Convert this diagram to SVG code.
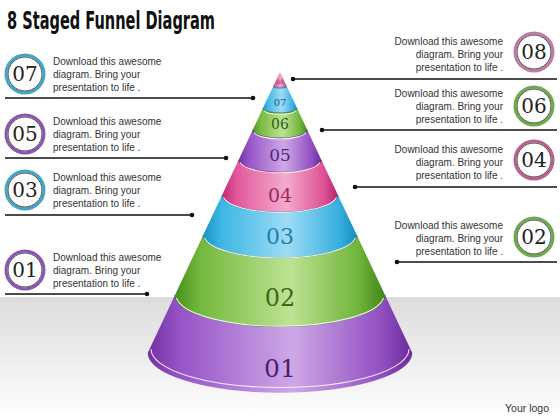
<svg xmlns="http://www.w3.org/2000/svg" width="560" height="420" viewBox="0 0 560 420">
<defs>
<linearGradient id="bg" x1="0" y1="0" x2="0" y2="1">
<stop offset="0" stop-color="#dcdcdc"/><stop offset="1" stop-color="#ffffff"/>
</linearGradient>
<linearGradient id="gPurple" x1="0" y1="0" x2="1" y2="0">
<stop offset="0" stop-color="#7331a3"/><stop offset="0.12" stop-color="#9653c6"/><stop offset="0.55" stop-color="#cda8e6"/><stop offset="0.88" stop-color="#9250c2"/><stop offset="1" stop-color="#6c2c9c"/>
</linearGradient>
<linearGradient id="gPink" x1="0" y1="0" x2="1" y2="0">
<stop offset="0" stop-color="#c2276f"/><stop offset="0.12" stop-color="#e0579a"/><stop offset="0.55" stop-color="#f4abcd"/><stop offset="0.88" stop-color="#dc5294"/><stop offset="1" stop-color="#b8226a"/>
</linearGradient>
<linearGradient id="gBlue" x1="0" y1="0" x2="1" y2="0">
<stop offset="0" stop-color="#1a94c6"/><stop offset="0.12" stop-color="#3db6e5"/><stop offset="0.55" stop-color="#9edcf4"/><stop offset="0.88" stop-color="#38b0e0"/><stop offset="1" stop-color="#168cbd"/>
</linearGradient>
<linearGradient id="gGreen" x1="0" y1="0" x2="1" y2="0">
<stop offset="0" stop-color="#478f1e"/><stop offset="0.12" stop-color="#73b83d"/><stop offset="0.55" stop-color="#bde393"/><stop offset="0.88" stop-color="#6fb33a"/><stop offset="1" stop-color="#40861a"/>
</linearGradient>
<style>
.t{font-family:"Liberation Sans",Arial,sans-serif;font-size:10px;fill:#333333}
.r{text-anchor:end}
.num{font-family:"DejaVu Serif","Liberation Serif",serif;font-size:20px;fill:#222222;text-anchor:middle}
.lbl{font-family:"DejaVu Serif","Liberation Serif",serif;text-anchor:middle}
.ring{fill:#ffffff;stroke-width:3}
.inner{fill:none;stroke:#444444;stroke-width:1}
.conn{stroke:#111111;stroke-width:1.6;fill:none}
.dot{fill:#111111}
.hl{fill:none;stroke:#ffffff;stroke-width:1.1;opacity:0.85}
.rim{fill:none;stroke-width:1.2;opacity:0.7}
</style>
</defs>
<rect x="0" y="0" width="560" height="420" fill="#ffffff"/>
<rect x="0" y="297" width="560" height="123" fill="url(#bg)"/>
<text x="7" y="29" font-family="'DejaVu Sans Condensed','DejaVu Sans',sans-serif" font-weight="bold" font-size="24" textLength="208" lengthAdjust="spacingAndGlyphs" fill="#111111">8 Staged Funnel Diagram</text>

<g id="funnel">
<g id="band08"><path d="M280,72 L286.6,86 A6.6,2 0 0 1 273.4,86 Z" fill="url(#gPink)"/><text class="lbl" x="280" y="84" font-size="6" fill="#8a1f50">08</text></g>
<g id="band07"><path d="M273.4,86 A6.6,2 0 0 0 286.6,86 L297,108 A17,5.1 0 0 1 263,108 Z" fill="url(#gBlue)"/><text class="lbl" x="280" y="106" font-size="10" fill="#1d5f8a">07</text></g>
<g id="band06"><path d="M263,108 A17,5.1 0 0 0 297,108 L307.3,130 A27.3,8.2 0 0 1 252.7,130 Z" fill="url(#gGreen)"/><text class="lbl" x="280" y="129" font-size="14" fill="#2f5e1a">06</text></g>
<g id="band05"><path d="M252.7,130 A27.3,8.2 0 0 0 307.3,130 L321.4,160 A41.4,12.4 0 0 1 238.6,160 Z" fill="url(#gPurple)"/><text class="lbl" x="280" y="161" font-size="17" fill="#4f2580">05</text></g>
<g id="band04"><path d="M238.6,160 A41.4,12.4 0 0 0 321.4,160 L337.9,195 A57.9,17.4 0 0 1 222.1,195 Z" fill="url(#gPink)"/><text class="lbl" x="280" y="202" font-size="19" fill="#a02860">04</text></g>
<g id="band03"><path d="M222.1,195 A57.9,17.4 0 0 0 337.9,195 L356.8,235 A76.8,23 0 0 1 203.2,235 Z" fill="url(#gBlue)"/><text class="lbl" x="280" y="244" font-size="22" fill="#1f7fb0">03</text></g>
<g id="band02"><path d="M203.2,235 A76.8,23 0 0 0 356.8,235 L385,295 A105,31.5 0 0 1 175,295 Z" fill="url(#gGreen)"/><text class="lbl" x="280" y="306" font-size="24" fill="#3a6a1c">02</text></g>
<g id="band01"><path d="M175,295 A105,31.5 0 0 0 385,295 L412.3,353 A132.3,39.7 0 0 1 147.7,353 Z" fill="url(#gPurple)"/><text class="lbl" x="280" y="377" font-size="25" fill="#4a2070">01</text></g>
<g id="edges">
<path class="rim" stroke="#1d6f9a" d="M273.4,86 A6.6,2 0 0 0 286.6,86"/>
<path class="rim" stroke="#2c6a12" d="M263,108 A17,5.1 0 0 0 297,108"/>
<path class="rim" stroke="#4c1f78" d="M252.7,130 A27.3,8.2 0 0 0 307.3,130"/>
<path class="rim" stroke="#8a1a50" d="M238.6,160 A41.4,12.4 0 0 0 321.4,160"/>
<path class="rim" stroke="#0f6e9a" d="M222.1,195 A57.9,17.4 0 0 0 337.9,195"/>
<path class="rim" stroke="#2c6a12" d="M203.2,235 A76.8,23 0 0 0 356.8,235"/>
<path class="rim" stroke="#3d6b1f" d="M175,295 A105,31.5 0 0 0 385,295"/>
<path class="hl" d="M264,110.5 A16.5,5 0 0 0 296,110.5"/>
<path class="hl" d="M254,132.5 A26.5,8 0 0 0 306,132.5"/>
<path class="hl" d="M240,162.5 A40.5,12.2 0 0 0 320,162.5"/>
<path class="hl" d="M223.5,197.5 A57,17.2 0 0 0 336.5,197.5"/>
<path class="hl" d="M204.5,237.8 A76,22.8 0 0 0 355.5,237.8"/>
<path class="hl" d="M176.5,298 A104,31.3 0 0 0 383.5,298"/>
<path class="hl" d="M151,349 A129,38.5 0 0 0 409,349"/>
</g>
</g>

<g id="connectors">
<path class="conn" d="M5,98 H253 M5,158 H226 M5,215 H192 M5,294 H147 M557,79 H293 M557,130 H322 M557,187 H355 M557,262 H397"/>
<circle class="dot" cx="253" cy="98" r="2.3"/>
<circle class="dot" cx="226" cy="158" r="2.3"/>
<circle class="dot" cx="192" cy="215" r="2.3"/>
<circle class="dot" cx="147" cy="294" r="2.3"/>
<circle class="dot" cx="293" cy="79" r="2.3"/>
<circle class="dot" cx="322" cy="130" r="2.3"/>
<circle class="dot" cx="355" cy="187" r="2.3"/>
<circle class="dot" cx="397" cy="262" r="2.3"/>
</g>

<g id="item07">
<circle class="ring" cx="25" cy="74" r="19" stroke="#3fa7c9"/><circle class="inner" cx="25" cy="74" r="17"/>
<text class="num" x="25" y="81">07</text>
<text class="t" x="53" y="65">Download this awesome</text><text class="t" x="53" y="78">diagram. Bring your</text><text class="t" x="53" y="91">presentation to life .</text>
</g>
<g id="item05">
<circle class="ring" cx="25" cy="134" r="19" stroke="#8a55b5"/><circle class="inner" cx="25" cy="134" r="17"/>
<text class="num" x="25" y="141">05</text>
<text class="t" x="53" y="125">Download this awesome</text><text class="t" x="53" y="138">diagram. Bring your</text><text class="t" x="53" y="151">presentation to life .</text>
</g>
<g id="item03">
<circle class="ring" cx="25" cy="190" r="19" stroke="#3fa7c9"/><circle class="inner" cx="25" cy="190" r="17"/>
<text class="num" x="25" y="197">03</text>
<text class="t" x="53" y="181">Download this awesome</text><text class="t" x="53" y="194">diagram. Bring your</text><text class="t" x="53" y="207">presentation to life .</text>
</g>
<g id="item01">
<circle class="ring" cx="25" cy="270" r="19" stroke="#8a55b5"/><circle class="inner" cx="25" cy="270" r="17"/>
<text class="num" x="25" y="277">01</text>
<text class="t" x="53" y="261">Download this awesome</text><text class="t" x="53" y="274">diagram. Bring your</text><text class="t" x="53" y="287">presentation to life .</text>
</g>
<g id="item08">
<circle class="ring" cx="534" cy="52" r="19" stroke="#c27aa2"/><circle class="inner" cx="534" cy="52" r="17"/>
<text class="num" x="534" y="59">08</text>
<text class="t r" x="503" y="45">Download this awesome</text><text class="t r" x="503" y="58">diagram. Bring your</text><text class="t r" x="503" y="71">presentation to life .</text>
</g>
<g id="item06">
<circle class="ring" cx="534" cy="106" r="19" stroke="#6aab4a"/><circle class="inner" cx="534" cy="106" r="17"/>
<text class="num" x="534" y="113">06</text>
<text class="t r" x="503" y="97">Download this awesome</text><text class="t r" x="503" y="110">diagram. Bring your</text><text class="t r" x="503" y="123">presentation to life .</text>
</g>
<g id="item04">
<circle class="ring" cx="534" cy="160" r="19" stroke="#bd5f8c"/><circle class="inner" cx="534" cy="160" r="17"/>
<text class="num" x="534" y="167">04</text>
<text class="t r" x="503" y="153">Download this awesome</text><text class="t r" x="503" y="166">diagram. Bring your</text><text class="t r" x="503" y="179">presentation to life .</text>
</g>
<g id="item02">
<circle class="ring" cx="534" cy="237" r="19" stroke="#6aab4a"/><circle class="inner" cx="534" cy="237" r="17"/>
<text class="num" x="534" y="244">02</text>
<text class="t r" x="503" y="229">Download this awesome</text><text class="t r" x="503" y="242">diagram. Bring your</text><text class="t r" x="503" y="255">presentation to life .</text>
</g>
<text x="505" y="412" font-family="'Liberation Sans',Arial,sans-serif" font-size="10.5" fill="#333333">Your logo</text>
</svg>
